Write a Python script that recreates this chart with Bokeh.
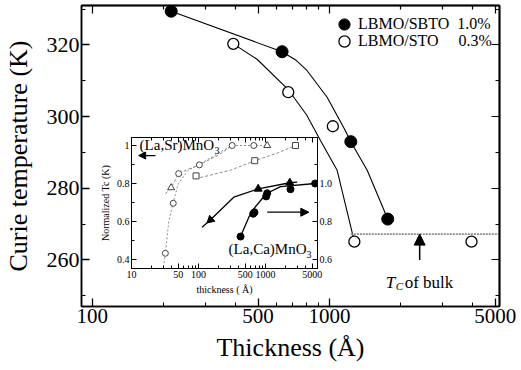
from bokeh.plotting import figure
from bokeh.models import (FixedTicker, LogAxis, LinearAxis, Range1d, Legend, LegendItem,
                          Label, Arrow, NormalHead)
from bokeh.layouts import column
from bokeh.embed import file_html
from bokeh.resources import INLINE

SERIF = "Liberation Serif"

# ---------------- main panel data ----------------
sbto_thickness = [215, 631, 1230, 1760]
sbto_tc = [329.4, 318.1, 293.0, 271.4]
sto_thickness = [393, 670, 1033, 1273, 3970]
sto_tc = [320.3, 306.8, 297.3, 265.1, 265.1]
sbto_fit_thickness = [215, 631, 720, 805, 977, 1146, 1230, 1442, 1760]
sbto_fit_tc = [329.4, 318.1, 315.8, 312.8, 305.4, 297.0, 293.0, 285.0, 271.4]
sto_fit_thickness = [393, 495, 670, 800, 916, 1077, 1273]
sto_fit_tc = [320.3, 316.0, 307.5, 300.5, 293.3, 285.0, 265.1]
bulk_tc = 267.2
bulk_line_thickness = [1230, 5300]
bulk_arrow_thickness = 2400
bulk_arrow_from_tc = 260.0
x_major = [100, 500, 1000, 5000]
x_major_labels = ["100", "500", "1000", "5000"]
x_minor = [200, 300, 400, 600, 700, 800, 900, 2000, 3000, 4000]
y_major = [260, 280, 300, 320]
y_major_labels = ["260", "280", "300", "320"]
y_minor = [250, 270, 290, 310, 330]
legend_names = ["LBMO/SBTO", "LBMO/STO"]
legend_strain = ["1.0%", "0.3%"]

# ---------------- inset data ----------------
lsmo_circle_thickness = [32, 42, 50.6, 103, 318, 668]
lsmo_circle_norm = [0.433, 0.696, 0.852, 0.898, 1.0, 1.0]
lsmo_triangle_thickness = [39, 1060]
lsmo_triangle_norm = [0.778, 1.0]
lsmo_square_thickness = [92, 690, 2800]
lsmo_square_norm = [0.84, 0.92, 1.0]
lsmo_fit1_thickness = [30, 32, 36, 42, 50, 70, 103, 200, 318, 668, 1060]
lsmo_fit1_norm = [0.36, 0.433, 0.60, 0.70, 0.80, 0.87, 0.90, 0.96, 1.0, 1.0, 1.0]
lsmo_fit2_thickness = [32, 39, 50.6, 70, 103, 200, 318]
lsmo_fit2_norm = [0.746, 0.778, 0.852, 0.875, 0.898, 0.95, 1.0]
lsmo_fit3_thickness = [90, 300, 690, 1500, 2800]
lsmo_fit3_norm = [0.825, 0.87, 0.92, 0.96, 1.0]
lcmo_circle_thickness = [424, 655, 685, 1023, 1060, 2360, 5500]
lcmo_circle_norm = [0.721, 0.841, 0.849, 0.932, 0.949, 0.970, 1.0]
lcmo_triangle_thickness = [151, 778, 2305]
lcmo_triangle_norm = [0.809, 0.972, 1.004]
lcmo_fit_c_thickness = [424, 564, 668, 1023, 1675, 5500]
lcmo_fit_c_norm = [0.721, 0.823, 0.867, 0.946, 0.984, 1.0]
lcmo_fit_t_thickness = [113, 151, 336, 778, 2305, 2970]
lcmo_fit_t_norm = [0.770, 0.809, 0.928, 0.972, 1.004, 1.007]
ins_x_major = [10, 50, 100, 500, 1000, 5000]
ins_x_major_labels = ["10", "50", "100", "500", "1000", "5000"]
ins_x_minor = [20, 30, 40, 60, 70, 80, 90, 200, 300, 400, 600, 700, 800, 900, 2000, 3000, 4000]
ins_yl_major = [0.4, 0.6, 0.8, 1.0]
ins_yl_major_labels = ["0.4", "0.6", "0.8", "1"]
ins_yl_minor = [0.5, 0.7, 0.9]
ins_yr_major = [0.6, 0.8, 1.0]
ins_yr_major_labels = ["0.6", "0.8", "1.0"]
ins_yr_minor = [0.7, 0.9, 1.1]
lsmo_arrow_thickness = [22.8, 12.8]
lsmo_arrow_norm = 0.947
lcmo_arrow_thickness = [1060, 4430]
lcmo_arrow_norm = 0.849


def style_axis(ax, major, labels, minor, size, tick_major=8, tick_minor=4, lw=1.5):
    ax.ticker = FixedTicker(ticks=major, minor_ticks=minor)
    ax.major_label_overrides = dict(zip(major, labels))
    ax.axis_line_color = "black"
    ax.axis_line_width = lw
    ax.major_tick_in = tick_major
    ax.major_tick_out = 0
    ax.minor_tick_in = tick_minor
    ax.minor_tick_out = 0
    ax.major_tick_line_width = 1.3 if lw > 1 else 1.0
    ax.minor_tick_line_width = 1.0
    ax.major_tick_line_color = "black"
    ax.minor_tick_line_color = "black"
    ax.major_label_text_font = SERIF
    ax.major_label_text_color = "black"
    ax.major_label_text_font_size = size


def add_mirror(fig, side, axis_cls, positions, length, lw, **kw):
    """Tick-only mirror axis: ticks drawn as minor ticks, so no labels are made."""
    ax = axis_cls(ticker=FixedTicker(ticks=[], minor_ticks=positions), **kw)
    ax.axis_line_color = "black"
    ax.axis_line_width = lw
    ax.major_tick_in = 0
    ax.major_tick_out = 0
    ax.minor_tick_in = length
    ax.minor_tick_out = 0
    ax.minor_tick_line_width = 1.2 if lw > 1 else 1.0
    ax.minor_tick_line_color = "black"
    ax.major_label_standoff = 0
    fig.add_layout(ax, side)


# ---------------- main figure ----------------
p = figure(width=521, height=370, x_axis_type="log",
           x_range=Range1d(90, 5210), y_range=Range1d(247, 331),
           toolbar_location=None, output_backend="svg",
           min_border_left=81, min_border_right=22, min_border_top=5, min_border_bottom=64,
           background_fill_color="white", border_fill_color="white")
p.grid.visible = False
p.outline_line_color = "black"
p.outline_line_width = 1.5

style_axis(p.below[0], x_major, x_major_labels, x_minor, "21px")
p.below[0].major_label_standoff = 2
p.below[0].axis_label = "Thickness (Å)"
style_axis(p.left[0], y_major, y_major_labels, y_minor, "22px")
p.left[0].major_label_standoff = 2
p.left[0].axis_label = "Curie temperature (K)"
for ax in (p.below[0], p.left[0]):
    ax.axis_label_text_font = SERIF
    ax.axis_label_text_font_style = "normal"
    ax.axis_label_text_font_size = "26px"
    ax.axis_label_text_color = "black"
p.below[0].axis_label_standoff = 7
p.left[0].axis_label_standoff = 11

add_mirror(p, "above", LogAxis, x_major, 8, 1.5)
add_mirror(p, "above", LogAxis, x_minor, 4, 1.5)
add_mirror(p, "right", LinearAxis, y_major, 8, 1.5)
add_mirror(p, "right", LinearAxis, y_minor, 4, 1.5)

p.line(sbto_fit_thickness, sbto_fit_tc, line_color="black", line_width=1.1)
p.line(sto_fit_thickness, sto_fit_tc, line_color="black", line_width=1.1)
p.line(bulk_line_thickness, [bulk_tc, bulk_tc], line_color="#8a8a8a", line_width=1.6,
       line_dash="2 1")
r_sbto = p.scatter(sbto_thickness, sbto_tc, marker="circle", size=12,
                   fill_color="black", line_color="black")
r_sto = p.scatter(sto_thickness, sto_tc, marker="circle", size=11,
                  fill_color="white", line_color="black", line_width=1.3)

p.add_layout(Arrow(x_start=bulk_arrow_thickness, y_start=bulk_arrow_from_tc,
                   x_end=bulk_arrow_thickness, y_end=bulk_tc, line_width=1.5,
                   end=NormalHead(size=11, fill_color="black", line_color="black")))
lab_kw = dict(x=bulk_arrow_thickness, y=253.8, text_font=SERIF, text_color="black",
              text_baseline="alphabetic")
p.add_layout(Label(text="T", x_offset=-34, text_font_size="17px",
                   text_font_style="italic", **lab_kw))
p.add_layout(Label(text="C", x_offset=-24, y_offset=-4, text_font_size="11px",
                   text_font_style="italic", **lab_kw))
p.add_layout(Label(text="of bulk", x_offset=-15, text_font_size="17px", **lab_kw))

nb = "\u00a0"
leg_kw = dict(glyph_width=28, glyph_height=28, label_standoff=0, padding=0, margin=0,
              label_text_font=SERIF, label_text_font_size="16px", label_text_color="black",
              background_fill_alpha=0, border_line_alpha=0)
p.add_layout(Legend(items=[LegendItem(label=legend_names[0] + nb * 2 + legend_strain[0],
                                      renderers=[r_sbto])], location=(249, 268), **leg_kw))
p.add_layout(Legend(items=[LegendItem(label=legend_names[1] + nb * 5 + legend_strain[1],
                                      renderers=[r_sto])], location=(249, 251), **leg_kw))

# ---------------- inset figure ----------------
# borders equal to the main figure's, since the column layout aligns them
ins = figure(width=289, height=165, x_axis_type="log",
             x_range=Range1d(10, 5970), y_range=Range1d(0.353, 1.042),
             toolbar_location=None, output_backend="svg",
             min_border_left=81, min_border_right=22, min_border_top=4, min_border_bottom=30,
             background_fill_color="white", border_fill_alpha=0)
ins.styles = {"position": "absolute", "left": "50px", "top": "133px"}
ins.grid.visible = False
ins.outline_line_color = "black"
ins.outline_line_width = 1.0
ins.extra_y_ranges = {"right": Range1d(0.553, 1.242)}
ins.add_layout(LinearAxis(y_range_name="right"), "right")

style_axis(ins.below[0], ins_x_major, ins_x_major_labels, ins_x_minor, "10px", 5, 3, 1.0)
style_axis(ins.left[0], ins_yl_major, ins_yl_major_labels, ins_yl_minor, "10px", 5, 3, 1.0)
style_axis(ins.right[0], ins_yr_major, ins_yr_major_labels, ins_yr_minor, "10px", 5, 3, 1.0)
for ax in (ins.below[0], ins.left[0], ins.right[0]):
    ax.major_label_standoff = 2
add_mirror(ins, "above", LogAxis, ins_x_major, 5, 1.0)
add_mirror(ins, "above", LogAxis, ins_x_minor, 3, 1.0)

ins.below[0].axis_label = "thickness ( Å)"
ins.left[0].axis_label = "Normalized Tc (K)"
for ax in (ins.below[0], ins.left[0]):
    ax.axis_label_text_font = SERIF
    ax.axis_label_text_font_style = "normal"
    ax.axis_label_text_font_size = "10px"
    ax.axis_label_text_color = "black"
    ax.axis_label_standoff = 3

gray = "#8c8c8c"
ins.line(lsmo_fit1_thickness, lsmo_fit1_norm, line_color=gray, line_width=1, line_dash="2 2")
ins.line(lsmo_fit2_thickness, lsmo_fit2_norm, line_color=gray, line_width=1, line_dash="3 2")
ins.line(lsmo_fit3_thickness, lsmo_fit3_norm, line_color=gray, line_width=1, line_dash="3 2")
ins.scatter(lsmo_circle_thickness, lsmo_circle_norm, marker="circle", size=6,
            fill_color="white", line_color="#444444")
ins.scatter(lsmo_triangle_thickness, lsmo_triangle_norm, marker="triangle", size=7,
            fill_color="white", line_color="#444444")
ins.scatter(lsmo_square_thickness, lsmo_square_norm, marker="square", size=6,
            fill_color="white", line_color="#444444")

ins.line(lcmo_fit_c_thickness, lcmo_fit_c_norm, line_color="black", line_width=1.3,
         y_range_name="right")
ins.line(lcmo_fit_t_thickness, lcmo_fit_t_norm, line_color="black", line_width=1.3,
         y_range_name="right")
ins.scatter(lcmo_circle_thickness, lcmo_circle_norm, marker="circle", size=7,
            fill_color="black", line_color="black", y_range_name="right")
triangle_angles = [2.3, 0.0, 0.0]
ins.scatter(lcmo_triangle_thickness, lcmo_triangle_norm, marker="triangle", size=8,
            angle=triangle_angles, fill_color="black", line_color="black",
            y_range_name="right")

ins.add_layout(Arrow(x_start=lsmo_arrow_thickness[0], y_start=lsmo_arrow_norm,
                     x_end=lsmo_arrow_thickness[1], y_end=lsmo_arrow_norm, line_width=1.2,
                     end=NormalHead(size=7, fill_color="black", line_color="black")))
ins.add_layout(Arrow(x_start=lcmo_arrow_thickness[0], y_start=lcmo_arrow_norm,
                     x_end=lcmo_arrow_thickness[1], y_end=lcmo_arrow_norm, line_width=1.2,
                     y_range_name="right",
                     end=NormalHead(size=8, fill_color="black", line_color="black")))

tkw = dict(text_font=SERIF, text_color="black", text_baseline="middle")
ins.add_layout(Label(x=13.2, y=1.0, text="(La,Sr)MnO", text_font_size="15px", **tkw))
ins.add_layout(Label(x=13.2, y=1.0, x_offset=75, y_offset=-5, text="3",
                     text_font_size="10px", **tkw))
ins.add_layout(Label(x=281, y=0.453, text="(La,Ca)MnO", text_font_size="15px", **tkw))
ins.add_layout(Label(x=281, y=0.453, x_offset=78, y_offset=-5, text="3",
                     text_font_size="10px", **tkw))

layout = column(p, ins)
open("out.html", "w").write(file_html(layout, INLINE))
